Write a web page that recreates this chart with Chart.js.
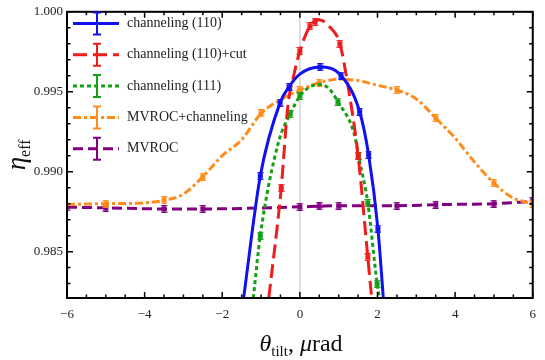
<!DOCTYPE html>
<html lang="en">
<head>
<meta charset="utf-8"/>
<title>eta_eff vs tilt angle</title>
<script src="https://cdn.jsdelivr.net/npm/chart.js@4.4.3/dist/chart.umd.min.js"></script>
<style>
  html, body { margin: 0; padding: 0; background: #fff; }
  #wrap { width: 545px; height: 360px; position: relative; }
</style>
</head>
<body>
<div id="wrap"><canvas id="chart"></canvas></div>
<script>
  // axis ticks
  const xTicks = [-6, -4, -2, 0, 2, 4, 6];
  const yTicks = [0.985, 0.990, 0.995, 1.000];

  // channeling (110)
  const blueX = [-1.45, -1.02, -0.51, -0.28, 0, 0.52, 1.06, 1.54, 1.77, 2.01, 2.15];
  const blueY = [0.9821, 0.98973, 0.99432, 0.99531, 0.9961, 0.99654, 0.99601, 0.99375, 0.99107, 0.98644, 0.9821];
  const blueMx = [-1.02, -0.51, -0.28, 0.52, 1.06, 1.54, 1.77, 2.01];
  const blueMy = [0.98973, 0.99432, 0.99531, 0.99654, 0.99601, 0.99375, 0.99107, 0.98644];

  // channeling (110)+cut
  const redX = [-0.8, -0.48, -0.31, -0.15, 0, 0.26, 0.5, 0.75, 1.03, 1.24, 1.5, 1.75, 1.85];
  const redY = [0.9821, 0.9890, 0.9941, 0.9961, 0.99755, 0.9991, 0.9995, 0.9991, 0.9980, 0.99537, 0.9910, 0.98465, 0.9821];
  const redMx = [-0.48, 0, 0.26, 0.39, 1.03, 1.5, 1.75];
  const redMy = [0.9890, 0.99755, 0.9991, 0.99936, 0.9980, 0.9910, 0.98465];

  // channeling (111)
  const greenX = [-1.2, -1.02, -0.55, -0.25, 0, 0.25, 0.52, 0.75, 0.98, 1.41, 1.51, 1.75, 1.99, 2.05];
  const greenY = [0.9821, 0.9860, 0.99185, 0.9936, 0.99473, 0.9953, 0.99545, 0.9952, 0.99438, 0.99228, 0.9910, 0.98804, 0.9830, 0.9821];
  const greenMx = [-1.02, -0.25, 0, 0.98, 1.51, 1.75, 1.99];
  const greenMy = [0.9860, 0.9936, 0.99473, 0.99438, 0.9910, 0.98804, 0.9830];

  // MVROC+channeling
  const orangeX = [-6, -5, -4, -3.5, -3, -2.5, -2, -1.5, -1, -0.5, 0, 0.5, 1, 1.5, 2, 2.5, 3, 3.5, 4, 4.5, 5, 5.5, 6];
  const orangeY = [0.98795, 0.9880, 0.98805, 0.98821, 0.9886, 0.98969, 0.9910, 0.9920, 0.99364, 0.9945, 0.9951, 0.99556, 0.99578, 0.9957, 0.9954, 0.9951, 0.99455, 0.99335, 0.9921, 0.9906, 0.98928, 0.98835, 0.9880];
  const orangeMx = [-5, -3.5, -2.5, -1, 0, 0.5, 2.5, 3.5, 5, 6];
  const orangeMy = [0.9880, 0.98821, 0.98969, 0.99364, 0.9951, 0.99556, 0.9951, 0.99335, 0.98928, 0.9880];

  // MVROC
  const purpleX = [-6, -5, -3.5, -2.5, 0, 0.5, 1, 2.5, 3.5, 5, 6];
  const purpleY = [0.98778, 0.98774, 0.98767, 0.98767, 0.9878, 0.98784, 0.98787, 0.98787, 0.98794, 0.9880, 0.98815];

  const series = [
    { label: 'channeling (110)', color: '#1010f0', dash: [], xs: blueX, ys: blueY, mx: blueMx, my: blueMy },
    { label: 'channeling (110)+cut', color: '#ee1c1c', dash: [14, 6], xs: redX, ys: redY, mx: redMx, my: redMy },
    { label: 'channeling (111)', color: '#14a014', dash: [4, 3], xs: greenX, ys: greenY, mx: greenMx, my: greenMy },
    { label: 'MVROC+channeling', color: '#ff8c1a', dash: [8, 3, 3, 3], xs: orangeX, ys: orangeY, mx: orangeMx, my: orangeMy },
    { label: 'MVROC', color: '#800080', dash: [10, 5], xs: purpleX, ys: purpleY, mx: purpleX, my: purpleY }
  ];

  const serif = '"Liberation Serif", "DejaVu Serif", serif';

  // small error-bar marker
  function markerImg(color) {
    const c = document.createElement('canvas');
    c.width = 7; c.height = 8;
    const g = c.getContext('2d');
    g.fillStyle = color;
    g.fillRect(0.5, 0, 6, 1.3);
    g.fillRect(0.5, 6.7, 6, 1.3);
    g.fillRect(3, 0, 1, 8);
    g.fillRect(1, 1.5, 5, 5);
    return c;
  }

  const datasets = [];
  series.forEach(s => {
    datasets.push({
      label: s.label,
      data: s.xs.map((x, i) => ({ x: x, y: s.ys[i] })),
      borderColor: s.color,
      backgroundColor: s.color,
      borderWidth: 3,
      borderDash: s.dash,
      pointRadius: 0,
      cubicInterpolationMode: 'monotone',
      fill: false
    });
    datasets.push({
      label: s.label + ' pts',
      data: s.mx.map((x, i) => ({ x: x, y: s.my[i] })),
      showLine: false,
      pointStyle: markerImg(s.color),
      pointRadius: 3,
      borderColor: s.color,
      backgroundColor: s.color
    });
  });

  const frame = {
    id: 'frame',
    beforeDatasetsDraw(chart) {
      const { ctx, chartArea: a, scales: { x } } = chart;
      const x0 = x.getPixelForValue(0);
      ctx.save();
      ctx.strokeStyle = '#d6d6d6';
      ctx.lineWidth = 1.5;
      ctx.beginPath();
      ctx.moveTo(x0, a.top);
      ctx.lineTo(x0, a.bottom);
      ctx.stroke();
      ctx.restore();
    },
    afterDraw(chart) {
      const { ctx, chartArea: a, scales: { x, y } } = chart;
      ctx.save();
      ctx.strokeStyle = '#000';
      ctx.lineWidth = 1.5;
      // x ticks every 0.5, major every 2
      for (let v = -6; v <= 6.001; v += 0.5) {
        const px = x.getPixelForValue(v);
        const len = Math.abs(v % 2) < 1e-6 ? 6 : 3.5;
        ctx.beginPath();
        ctx.moveTo(px, a.bottom); ctx.lineTo(px, a.bottom - len);
        ctx.moveTo(px, a.top); ctx.lineTo(px, a.top + len);
        ctx.stroke();
      }
      // y ticks every 0.001, major every 0.005
      for (let k = 983; k <= 1000; k++) {
        const py = y.getPixelForValue(k / 1000);
        const len = k % 5 === 0 ? 6 : 3.5;
        ctx.beginPath();
        ctx.moveTo(a.left, py); ctx.lineTo(a.left + len, py);
        ctx.moveTo(a.right, py); ctx.lineTo(a.right - len, py);
        ctx.stroke();
      }
      ctx.lineWidth = 2;
      ctx.strokeRect(a.left, a.top, a.right - a.left, a.bottom - a.top);

      // legend
      const lx0 = a.left + 6, lx1 = a.left + 52, ex = a.left + 30;
      series.forEach((s, i) => {
        const ly = 23.5 + i * 31.3;
        ctx.strokeStyle = s.color;
        ctx.lineWidth = 3;
        ctx.setLineDash(s.dash);
        ctx.beginPath(); ctx.moveTo(lx0, ly); ctx.lineTo(lx1, ly); ctx.stroke();
        ctx.setLineDash([]);
        ctx.lineWidth = 2;
        ctx.beginPath();
        ctx.moveTo(ex, ly - 11); ctx.lineTo(ex, ly + 11);
        ctx.moveTo(ex - 4, ly - 11); ctx.lineTo(ex + 4, ly - 11);
        ctx.moveTo(ex - 4, ly + 11); ctx.lineTo(ex + 4, ly + 11);
        ctx.stroke();
        ctx.fillStyle = '#222';
        ctx.font = '14px ' + serif;
        ctx.textBaseline = 'middle';
        ctx.textAlign = 'left';
        ctx.fillText(s.label, a.left + 60, ly);
      });

      // x title
      ctx.fillStyle = '#111';
      ctx.textBaseline = 'alphabetic';
      const parts = [
        { t: '\u03b8', f: 'italic 24px ' + serif, dy: 0 },
        { t: 'tilt', f: '15px ' + serif, dy: 5 },
        { t: ', ', f: '24px ' + serif, dy: 0 },
        { t: '\u03bc', f: 'italic 24px ' + serif, dy: 0 },
        { t: 'rad', f: '24px ' + serif, dy: 0 }
      ];
      let w = 0;
      parts.forEach(p => { ctx.font = p.f; w += ctx.measureText(p.t).width; });
      let cx = 301 - w / 2;
      parts.forEach(p => {
        ctx.font = p.f;
        ctx.fillText(p.t, cx, 351 + p.dy);
        cx += ctx.measureText(p.t).width;
      });

      // y title
      ctx.translate(25, (a.top + a.bottom) / 2);
      ctx.rotate(-Math.PI / 2);
      ctx.font = 'italic 27px ' + serif;
      const ew = ctx.measureText('\u03b7').width;
      ctx.font = '16px ' + serif;
      const sw = ctx.measureText('eff').width;
      let tx = -(ew + sw) / 2;
      ctx.font = 'italic 27px ' + serif;
      ctx.fillText('\u03b7', tx, 0);
      ctx.font = '16px ' + serif;
      ctx.fillText('eff', tx + ew, 5);
      ctx.restore();
    }
  };

  new Chart(document.getElementById('chart'), {
    type: 'line',
    data: { datasets: datasets },
    plugins: [frame],
    options: {
      responsive: true,
      maintainAspectRatio: false,
      animation: false,
      layout: { padding: { left: 0, right: 9, top: 8, bottom: 0 } },
      plugins: {
        legend: { display: false },
        tooltip: { enabled: false }
      },
      scales: {
        x: {
          type: 'linear',
          min: -6,
          max: 6,
          afterBuildTicks: s => { s.ticks = xTicks.map(v => ({ value: v })); },
          afterFit: s => { s.height = 62; },
          grid: { display: false, drawTicks: false },
          border: { display: false },
          ticks: {
            padding: 9,
            color: '#222',
            font: { family: serif, size: 13 },
            callback: v => String(v).replace('-', '\u2212')
          }
        },
        y: {
          min: 0.9821,
          max: 1.0,
          afterBuildTicks: s => { s.ticks = yTicks.map(v => ({ value: v })); },
          afterFit: s => { s.width = 67; },
          grid: { display: false, drawTicks: false },
          border: { display: false },
          ticks: {
            padding: 4,
            color: '#222',
            font: { family: serif, size: 13 },
            callback: v => v.toFixed(3)
          }
        }
      }
    }
  });
</script>
</body>
</html>
